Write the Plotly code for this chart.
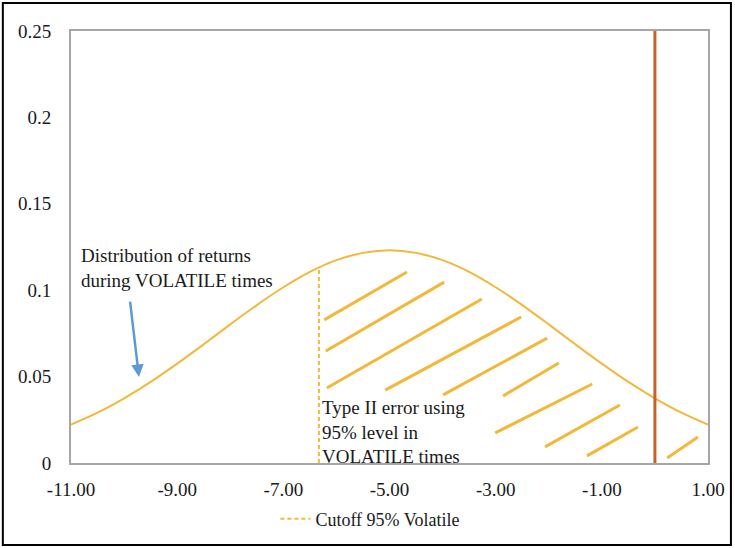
import plotly.graph_objects as go

# distribution of returns during volatile times
curve_x = [-11.0, -10.5, -10.0, -9.5, -9.0, -8.5, -8.0, -7.5, -7.0, -6.5, -6.0, -5.5, -5.0,
           -4.5, -4.0, -3.5, -3.0, -2.5, -2.0, -1.5, -1.0, -0.5, 0.0, 0.5, 1.0]
curve_y = [0.0222, 0.0291, 0.0374, 0.0469, 0.0575, 0.0687, 0.0802, 0.0914, 0.1017, 0.1106,
           0.1174, 0.1216, 0.1231, 0.1216, 0.1174, 0.1106, 0.1017, 0.0914, 0.0802, 0.0687,
           0.0575, 0.0469, 0.0374, 0.0291, 0.0222]

x_ticks = [-11, -9, -7, -5, -3, -1, 1]
x_labels = ["-11.00", "-9.00", "-7.00", "-5.00", "-3.00", "-1.00", "1.00"]
y_ticks = [0, 0.05, 0.1, 0.15, 0.2, 0.25]
y_labels = ["0", "0.05", "0.1", "0.15", "0.2", "0.25"]

cutoff_x = -6.33
cutoff_top = 0.113
red_x = 0.0

# hatch strokes for the type II error area
hatch_x0 = [-6.23, -6.20, -6.18, -5.08, -3.99, -2.86, -3.01, -2.07, -1.28, 0.23]
hatch_y0 = [0.0828, 0.0648, 0.0434, 0.0422, 0.0394, 0.0388, 0.0174, 0.0093, 0.0041, 0.0029]
hatch_x1 = [-4.67, -3.97, -3.26, -2.52, -2.03, -1.81, -1.18, -0.66, -0.32, 0.81]
hatch_y1 = [0.1105, 0.1047, 0.0949, 0.0845, 0.0723, 0.0579, 0.0457, 0.0336, 0.0208, 0.0150]

gold = "#F2B83A"
font = "Liberation Serif"

hx, hy = [], []
for a, b, c, d in zip(hatch_x0, hatch_y0, hatch_x1, hatch_y1):
    hx += [a, c, None]
    hy += [b, d, None]

fig = go.Figure()
fig.add_trace(go.Scatter(x=hx, y=hy, mode="lines", line=dict(color=gold, width=3),
                         showlegend=False, hoverinfo="skip"))
fig.add_trace(go.Scatter(x=curve_x, y=curve_y, mode="lines", line=dict(color=gold, width=2, shape="spline"),
                         showlegend=False))
fig.add_trace(go.Scatter(x=[red_x, red_x], y=[0, 0.25], mode="lines",
                         line=dict(color="#C8602A", width=3), showlegend=False))
fig.add_trace(go.Scatter(x=[cutoff_x, cutoff_x], y=[0, cutoff_top], mode="lines",
                         line=dict(color=gold, width=2, dash="4px,3px"), name="Cutoff 95% Volatile"))

fig.add_annotation(x=-9.72, y=0.0498, ax=-9.89, ay=0.0943, xref="x", yref="y", axref="x", ayref="y",
                   showarrow=True, arrowhead=2, arrowsize=1, arrowwidth=2.5, arrowcolor="#5B9BD5", text="")
fig.add_annotation(x=-10.85, y=0.1275, xref="x", yref="y", xanchor="left", yanchor="top",
                   align="left", showarrow=False,
                   text="Distribution of returns<br>during VOLATILE times",
                   font=dict(family=font, size=19, color="#1a1a1a"))
fig.add_annotation(x=-6.3, y=0.0395, xref="x", yref="y", xanchor="left", yanchor="top",
                   align="left", showarrow=False,
                   text="Type II error using<br>95% level in<br>VOLATILE times",
                   font=dict(family=font, size=19, color="#1a1a1a"))

# outer border
fig.add_shape(type="rect", xref="paper", yref="paper", x0=-0.107, x1=1.036, y0=-0.19, y1=1.065,
              line=dict(color="black", width=2))

fig.update_xaxes(range=[-11, 1], tickvals=x_ticks, ticktext=x_labels,
                 showgrid=False, zeroline=False, showline=True, linecolor="#A6A6A6", linewidth=2,
                 mirror=True, ticks="outside", ticklen=8, tickcolor="rgba(0,0,0,0)")
fig.update_yaxes(range=[0, 0.25], tickvals=y_ticks, ticktext=y_labels,
                 showgrid=False, zeroline=False, showline=True, linecolor="#A6A6A6", linewidth=2,
                 mirror=True, ticks="outside", ticklen=14, tickcolor="rgba(0,0,0,0)")

fig.update_layout(
    width=735, height=548,
    margin=dict(l=71, r=27, t=31, b=85, autoexpand=False),
    plot_bgcolor="white", paper_bgcolor="white",
    font=dict(family=font, size=19, color="#1a1a1a"),
    showlegend=True,
    legend=dict(orientation="h", x=0.47, y=-0.13, xanchor="center", yanchor="middle",
                font=dict(size=18)),
)

# the page's default body margin would push the figure 8px off the corner
fig.write_html("out.html", config={"displayModeBar": False},
               post_script="document.body.style.margin='0';")
